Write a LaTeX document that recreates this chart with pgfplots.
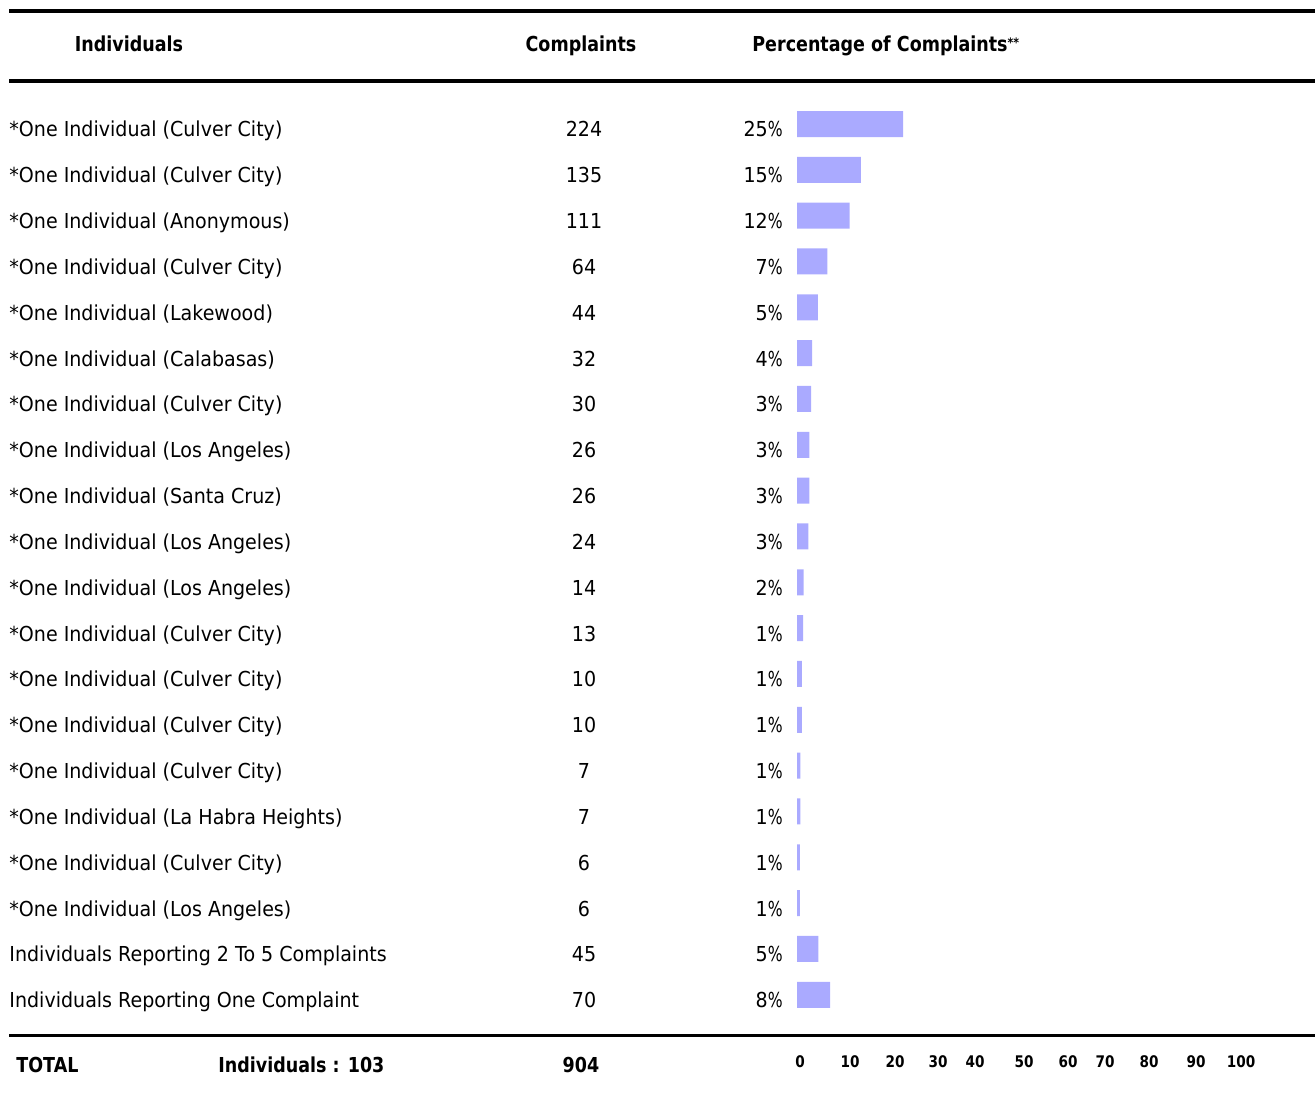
\documentclass[border=0pt]{standalone}
\usepackage{pgfplots}
\pgfplotsset{compat=1.18}
\usepackage{pgfplotstable}
\usepackage{fontspec}
\setmainfont{DejaVu Sans}[FakeStretch=0.925]
\newfontfamily\headfont{DejaVu Sans Bold}[FakeStretch=0.85]

\definecolor{barblue}{RGB}{170,170,255}

% share of all 904 complaints, one row per reporting party
\pgfplotstableread[col sep=comma]{
row,count,pct
1,224,24.78
2,135,14.93
3,111,12.28
4,64,7.08
5,44,4.87
6,32,3.54
7,30,3.32
8,26,2.88
9,26,2.88
10,24,2.65
11,14,1.55
12,13,1.44
13,10,1.11
14,10,1.11
15,7,0.77
16,7,0.77
17,6,0.66
18,6,0.66
19,45,4.98
20,70,7.74
}\complaints

\newcommand{\rowfont}{\fontsize{10.3pt}{12pt}\selectfont}
\newcommand{\boldrow}{\headfont\fontsize{10.3pt}{12pt}\selectfont}
\newcommand{\pct}{\scalebox{0.82}[1]{\%}}

\begin{document}
\begin{tikzpicture}
\begin{axis}[
  at={(0,0)}, anchor=south west,
  width=657.5pt, height=548.5pt, scale only axis,
  xmin=-186.215, xmax=121.028,
  ymin=-1.7057, ymax=22.2305, y dir=reverse,
  axis line style={draw=none},
  major tick length=0pt,
  ytick=\empty,
  xtick={0.70,12.38,22.90,32.94,41.59,53.04,63.32,71.96,82.24,93.22,103.74},
  xticklabels={0,10,20,30,40,50,60,70,80,90,100},
  /pgf/number format/assume math mode=true,
  xticklabel style={anchor=base, yshift=15pt, inner sep=0pt,
    font=\headfont\fontsize{8pt}{9pt}\selectfont},
  clip=false,
]
\addplot[xbar, bar width=13pt, fill=barblue, draw=none]
  table[x=pct, y=row] {\complaints};
\end{axis}

% table text and rules, placed in pixel units from the top-left corner
\begin{scope}[x=0.5pt, y=-0.5pt, shift={(0pt,548.5pt)}]
  \draw[line width=1.6pt] (9,11) -- (1315,11);
  \draw[line width=1.6pt] (9,81) -- (1315,81);
  \draw[line width=1.6pt] (9,1035.5) -- (1315,1035.5);

  \node[anchor=base, inner sep=0pt, font=\boldrow] at (129,52) {Individuals};
  \node[anchor=base, inner sep=0pt, font=\boldrow] at (581,52) {Complaints};
  \node[anchor=base west, inner sep=0pt, font=\boldrow] at (752,52)
    {Percentage of Complaints\raisebox{2.2pt}{\fontsize{6.5pt}{7pt}\selectfont **}};

  \foreach [count=\i] \name/\num/\share in {
    {*One Individual (Culver City)}/224/25,
    {*One Individual (Culver City)}/135/15,
    {*One Individual (Anonymous)}/111/12,
    {*One Individual (Culver City)}/64/7,
    {*One Individual (Lakewood)}/44/5,
    {*One Individual (Calabasas)}/32/4,
    {*One Individual (Culver City)}/30/3,
    {*One Individual (Los Angeles)}/26/3,
    {*One Individual (Santa Cruz)}/26/3,
    {*One Individual (Los Angeles)}/24/3,
    {*One Individual (Los Angeles)}/14/2,
    {*One Individual (Culver City)}/13/1,
    {*One Individual (Culver City)}/10/1,
    {*One Individual (Culver City)}/10/1,
    {*One Individual (Culver City)}/7/1,
    {*One Individual (La Habra Heights)}/7/1,
    {*One Individual (Culver City)}/6/1,
    {*One Individual (Los Angeles)}/6/1,
    {Individuals Reporting 2 To 5 Complaints}/45/5,
    {Individuals Reporting One Complaint}/70/8} {
    \pgfmathsetmacro{\yy}{137+45.83*(\i-1)}
    \node[anchor=base west, inner sep=0pt, font=\rowfont] at (9,\yy) {\name};
    \node[anchor=base, inner sep=0pt, font=\rowfont] at (584,\yy) {\num};
    \node[anchor=base east, inner sep=0pt, font=\rowfont] at (783,\yy) {\share\pct};
  }

  \node[anchor=base west, inner sep=0pt, font=\boldrow] at (16,1072) {TOTAL};
  \node[anchor=base west, inner sep=0pt, font=\boldrow] at (218,1072) {Individuals : 103};
  \node[anchor=base, inner sep=0pt, font=\boldrow] at (581,1072) {904};
\end{scope}

\pgfresetboundingbox
\path[use as bounding box] (0,0) rectangle (657.5pt,548.5pt);
\end{tikzpicture}
\end{document}
